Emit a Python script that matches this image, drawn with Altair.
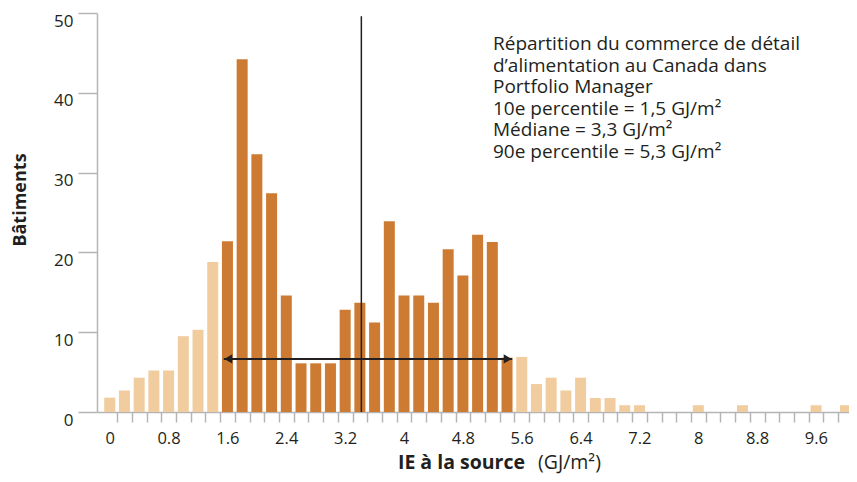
import altair as alt
import pandas as pd

# ---- data ----
bin_centers = [0.0, 0.2, 0.4, 0.6, 0.8, 1.0, 1.2, 1.4, 1.6, 1.8,
               2.0, 2.2, 2.4, 2.6, 2.8, 3.0, 3.2, 3.4, 3.6, 3.8,
               4.0, 4.2, 4.4, 4.6, 4.8, 5.0, 5.2, 5.4, 5.6, 5.8,
               6.0, 6.2, 6.4, 6.6, 6.8, 7.0, 7.2, 7.4, 7.6, 7.8,
               8.0, 8.2, 8.4, 8.6, 8.8, 9.0, 9.2, 9.4, 9.6, 9.8, 10.0]
buildings = [1.8, 2.7, 4.3, 5.2, 5.2, 9.5, 10.3, 18.8, 21.4, 44.2,
             32.3, 27.4, 14.6, 6.1, 6.1, 6.1, 12.8, 13.7, 11.2, 23.9,
             14.6, 14.6, 13.7, 20.4, 17.1, 22.2, 21.3, 6.8, 6.9, 3.5,
             4.3, 2.7, 4.3, 1.75, 1.75, 0.85, 0.85, 0, 0, 0,
             0.85, 0, 0, 0.85, 0, 0, 0, 0, 0.85, 0, 0.85]
p10_edge = 1.55
p90_edge = 5.47
median_x = 3.42
arrow_y = 6.65
median_top = 49.6

tick_values = [0.1, 0.3, 0.5, 0.7, 0.9, 1.1, 1.3, 1.5, 1.7, 1.9,
               2.1, 2.3, 2.5, 2.7, 2.9, 3.1, 3.3, 3.5, 3.7, 3.9,
               4.1, 4.3, 4.5, 4.7, 4.9, 5.1, 5.3, 5.5, 5.7, 5.9,
               6.1, 6.3, 6.5, 6.7, 6.9, 7.1, 7.3, 7.5, 7.7, 7.9,
               8.1, 8.3, 8.5, 8.7, 8.9, 9.1, 9.3, 9.5, 9.7, 9.9]
y_ticks = [0, 10, 20, 30, 40, 50]

note_lines = [
    "Répartition du commerce de détail",
    "d’alimentation au Canada dans",
    "Portfolio Manager",
    "10e percentile = 1,5 GJ/m²",
    "Médiane = 3,3 GJ/m²",
    "90e percentile = 5,3 GJ/m²",
]

DARK = "#cd7b32"
LIGHT = "#f1cc9f"
INK = "#231f20"
GREY = "#b5b5b5"
FONT = "Open Sans"

W, H = 752, 399

df = pd.DataFrame({"ie": bin_centers, "n": buildings})
df["zone"] = ["mid" if p10_edge - 0.1 < c < p90_edge + 0.05 else "tail" for c in bin_centers]

x_scale = alt.Scale(domain=[-0.105, 9.98], nice=False, zero=False)
y_scale = alt.Scale(domain=[0, 50], nice=False)

x_axis = alt.Axis(
    values=tick_values,
    labelExpr="(round((datum.value - 0.1) / 0.2) % 4 == 0) ? format(datum.value - 0.1, '.1~f') : ''",
    labelOffset=-7.45,
    tickSize=10, tickColor=GREY, tickWidth=1.5,
    domainColor=GREY, domainWidth=1.5,
    labelFont=FONT, labelFontSize=16.5, labelColor=INK, labelPadding=8,
    labelOverlap=False, labelFlush=False, labelBound=False, labelAngle=0,
    grid=False, title=None,
)
y_axis = alt.Axis(
    values=y_ticks,
    tickSize=19, tickColor=GREY, tickWidth=1.5,
    domainColor=GREY, domainWidth=1.5,
    labelFont=FONT, labelFontSize=17, labelColor=INK, labelPadding=5,
    labelBaseline="top",
    labelFlush=False, grid=False, title=None,
)

bars = alt.Chart(df).mark_bar(width=11).encode(
    x=alt.X("ie:Q", scale=x_scale, axis=x_axis),
    y=alt.Y("n:Q", scale=y_scale, axis=y_axis),
    color=alt.Color("zone:N", scale=alt.Scale(domain=["mid", "tail"], range=[DARK, LIGHT]), legend=None),
)

med_df = pd.DataFrame({"x": [median_x], "y0": [0], "y1": [median_top]})
median_rule = alt.Chart(med_df).mark_rule(color=INK, strokeWidth=1.5).encode(
    x=alt.X("x:Q", scale=x_scale, axis=x_axis),
    y=alt.Y("y0:Q", scale=y_scale, axis=y_axis),
    y2="y1:Q",
)

arr_df = pd.DataFrame({"x0": [p10_edge], "x1": [p90_edge], "y": [arrow_y]})
arrow_line = alt.Chart(arr_df).mark_rule(color=INK, strokeWidth=2).encode(
    x=alt.X("x0:Q", scale=x_scale, axis=x_axis),
    x2="x1:Q",
    y=alt.Y("y:Q", scale=y_scale, axis=y_axis),
)

left_df = pd.DataFrame({"x": [p10_edge], "y": [arrow_y]})
right_df = pd.DataFrame({"x": [p90_edge], "y": [arrow_y]})
left_head = alt.Chart(left_df).mark_point(
    shape="triangle-left", filled=True, size=85, color=INK, opacity=1, xOffset=4.5
).encode(
    x=alt.X("x:Q", scale=x_scale, axis=x_axis),
    y=alt.Y("y:Q", scale=y_scale, axis=y_axis),
)
right_head = alt.Chart(right_df).mark_point(
    shape="triangle-right", filled=True, size=85, color=INK, opacity=1, xOffset=-4.5
).encode(
    x=alt.X("x:Q", scale=x_scale, axis=x_axis),
    y=alt.Y("y:Q", scale=y_scale, axis=y_axis),
)

one = pd.DataFrame({"k": [0]})
note = alt.Chart(one).mark_text(
    align="left", baseline="alphabetic", font=FONT, fontSize=19,
    lineHeight=21.6, color=INK,
).encode(x=alt.value(396), y=alt.value(37), text=alt.value(note_lines))

y_title = alt.Chart(one).mark_text(
    angle=270, align="center", baseline="middle", font=FONT, fontSize=18,
    fontWeight="bold", color=INK,
).encode(x=alt.value(-76), y=alt.value(187), text=alt.value("Bâtiments"))

x_title_bold = alt.Chart(one).mark_text(
    align="right", baseline="alphabetic", font=FONT, fontSize=19.5,
    fontWeight="bold", color=INK,
).encode(x=alt.value(428), y=alt.value(H + 57), text=alt.value("IE à la source"))

x_title_unit = alt.Chart(one).mark_text(
    align="left", baseline="alphabetic", font=FONT, fontSize=19.5,
    color=INK,
).encode(x=alt.value(441), y=alt.value(H + 57), text=alt.value("(GJ/m²)"))

chart = alt.layer(
    bars, median_rule, arrow_line, left_head, right_head,
    note, y_title, x_title_bold, x_title_unit,
).properties(
    width=W, height=H,
    autosize=alt.AutoSizeParams(type="none"),
    padding={"left": 89, "top": 5, "right": 0, "bottom": 62},
).configure_view(stroke=None)

chart.save("out.html", embed_options={"renderer": "svg", "actions": False})
